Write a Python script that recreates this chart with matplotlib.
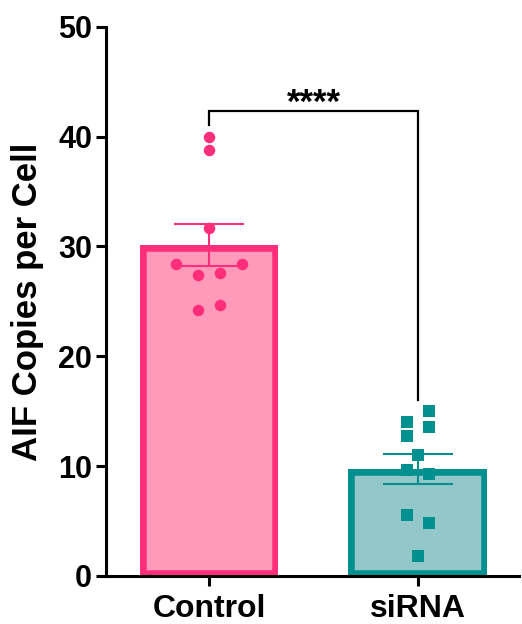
import numpy as np
import matplotlib
matplotlib.use("Agg")
import matplotlib.pyplot as plt

plt.rcParams['font.family'] = ['Liberation Sans', 'DejaVu Sans']
plt.rcParams['font.weight'] = 'bold'

# Data
groups = ["Control", "siRNA"]
control_vals = [40.0, 38.8, 31.7, 28.4, 28.4, 27.4, 27.6, 24.2, 24.7]
sirna_vals = [15.0, 14.05, 13.6, 12.7, 11.0, 9.65, 9.3, 5.55, 4.85, 1.8]
sig_label = "****"

# Horizontal scatter of the dots (layout only)
control_dx = [0, 0, 0, -0.16, 0.16, -0.053, 0.053, -0.053, 0.053]
sirna_dx = [0.053, -0.053, 0.053, -0.053, 0, -0.053, 0.053, -0.053, 0.053, 0]

edge_cols = ["#FF2E7A", "#00908F"]
fill_cols = ["#FF9ABB", "#94C7C9"]
markers = ["o", "s"]

fig = plt.figure(figsize=(5.22, 6.24), dpi=100)
ax = fig.add_axes([0.203, 0.077, 0.791, 0.880])

vals = [control_vals, sirna_vals]
dxs = [control_dx, sirna_dx]
for i, (v, dx) in enumerate(zip(vals, dxs)):
    v = np.array(v)
    mean = v.mean()
    sem = v.std(ddof=1) / np.sqrt(len(v))
    bars = ax.bar(i, mean, width=0.665, color=fill_cols[i], edgecolor=edge_cols[i],
                  linewidth=9.0, zorder=1)
    # border drawn inside the bar, like Prism does
    for p in bars:
        p.set_clip_path(p)
    ax.errorbar(i, mean, yerr=sem, color=edge_cols[i], capsize=25,
                elinewidth=1.5, capthick=1.5, zorder=2)
    ax.plot(i + np.array(dx), v, linestyle='none', marker=markers[i],
            markersize=8.3 if i == 0 else 8.5, color=edge_cols[i],
            markeredgewidth=0, zorder=3)

# significance bracket
ax.plot([0, 0, 1, 1], [41.1, 42.35, 42.35, 16.0], color='black', lw=1.6,
        solid_joinstyle='miter', zorder=4)
ax.text(0.5, 42.2, sig_label, ha='center', va='baseline', fontsize=25,
        fontweight='bold')

ax.set_xlim(-0.493, 1.483)
ax.set_ylim(0, 50)
ax.set_yticks([0, 10, 20, 30, 40, 50])
ax.set_xticks([0, 1])
ax.set_xticklabels(groups)
ax.set_ylabel("AIF Copies per Cell", fontsize=25, fontweight='bold', labelpad=10)

for s in ['top', 'right']:
    ax.spines[s].set_visible(False)
for s in ['left', 'bottom']:
    ax.spines[s].set_linewidth(2.2)
ax.tick_params(axis='both', width=2.2, length=7, pad=3)
ax.tick_params(axis='y', labelsize=22)
ax.tick_params(axis='x', labelsize=23, pad=6)
for lab in ax.get_xticklabels() + ax.get_yticklabels():
    lab.set_fontweight('bold')

fig.savefig("out.png", dpi=100)
